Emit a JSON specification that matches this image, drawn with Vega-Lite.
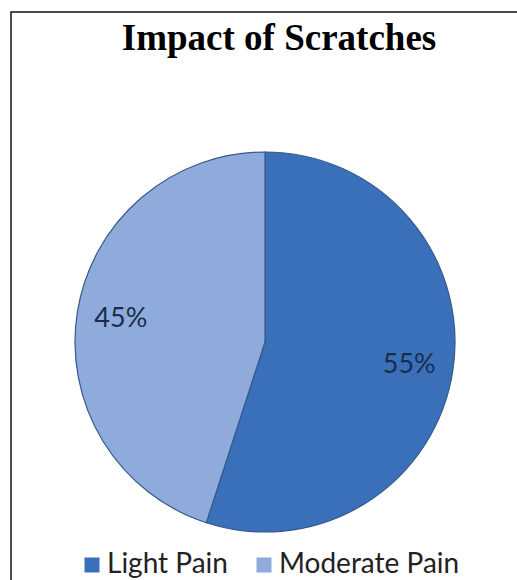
{
  "$schema": "https://vega.github.io/schema/vega-lite/v6.json",
  "width": 508,
  "height": 660,
  "autosize": {"type": "none"},
  "padding": {"left": 11, "top": 12, "right": 0, "bottom": 0},
  "background": "white",
  "view": {"stroke": "#111111", "strokeWidth": 1.5},
  "title": {
    "text": "Impact of Scratches",
    "font": "Liberation Serif",
    "fontSize": 37,
    "fontWeight": "bold",
    "color": "black",
    "baseline": "alphabetic",
    "orient": "bottom",
    "offset": -622,
    "dx": 14,
    "anchor": "middle"
  },
  "data": {
    "values": [
      {"category": "Light Pain", "value": 55, "label": "55%"},
      {"category": "Moderate Pain", "value": 45, "label": "45%"}
    ]
  },
  "encoding": {
    "theta": {"field": "value", "type": "quantitative", "stack": true},
    "order": {"field": "category", "sort": "ascending"}
  },
  "layer": [
    {
      "mark": {"type": "arc", "outerRadius": 190, "stroke": "#35598a", "strokeWidth": 1.2},
      "encoding": {
        "color": {
          "field": "category",
          "type": "nominal",
          "scale": {"domain": ["Light Pain", "Moderate Pain"], "range": ["#3a70ba", "#8eabdc"]},
          "legend": {
            "orient": "none",
            "direction": "horizontal",
            "legendX": 67,
            "legendY": 539,
            "title": null,
            "symbolType": "square",
            "symbolSize": 225,
            "symbolStrokeWidth": 0,
            "labelFont": "Lato",
            "labelFontSize": 28,
            "labelColor": "#222222",
            "labelOffset": 1,
            "labelLimit": 400,
            "columnPadding": 22,
            "padding": 0
          }
        }
      }
    },
    {
      "mark": {"type": "text", "radius": 146, "font": "Lato", "fontSize": 27, "fill": "#1c2b4a"},
      "encoding": {
        "text": {"field": "label", "type": "nominal"},
        "detail": {"field": "category", "type": "nominal"}
      }
    }
  ]
}
